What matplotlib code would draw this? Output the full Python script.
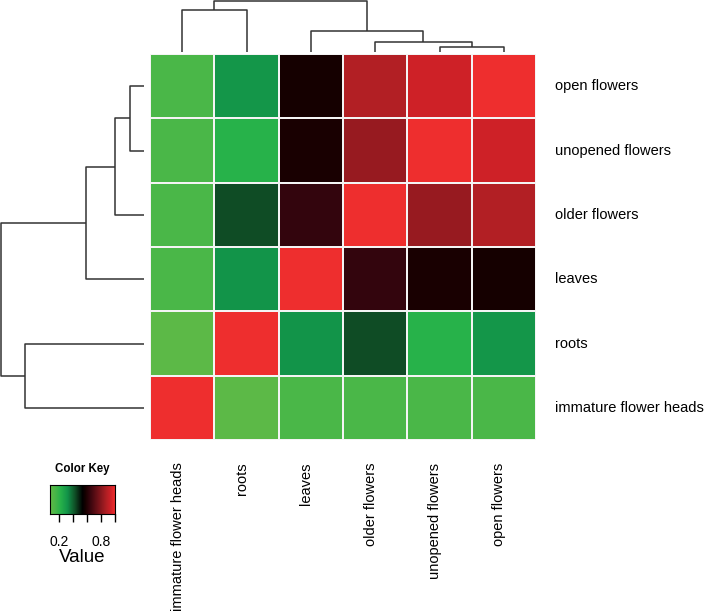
import numpy as np
import matplotlib.pyplot as plt
from matplotlib.colors import LinearSegmentedColormap

plt.rcParams['font.family'] = ['Liberation Sans', 'DejaVu Sans']

# column order of the heatmap (rows use the reverse order)
tissues = ["immature flower heads", "roots", "leaves",
           "older flowers", "unopened flowers", "open flowers"]

# symmetric similarity matrix, in column order
imm_row = [1.0, 0.09, 0.14, 0.14, 0.14, 0.14]
roots_row = [0.09, 1.0, 0.32, 0.43, 0.22, 0.31]
leaves_row = [0.14, 0.32, 1.0, 0.64, 0.585, 0.575]
older_row = [0.14, 0.43, 0.64, 1.0, 0.83, 0.88]
unop_row = [0.14, 0.22, 0.585, 0.83, 1.0, 0.935]
open_row = [0.14, 0.31, 0.575, 0.88, 0.935, 1.0]

# dendrogram merges (leaf index in column order, height relative to root)
merges = [(4, 5, 0.10), (3, 6, 0.20), (2, 7, 0.405), (0, 1, 0.83), (9, 8, 1.0)]

vmin, vmax = 0.07, 1.0
key_ticks = [0.2, 0.4, 0.6, 0.8, 1.0]
key_labels = ["0.2", "", "", "0.8", ""]

stops = [(0.07, "#62BA46"), (0.14, "#4AB748"), (0.22, "#27B24A"),
         (0.32, "#129349"), (0.43, "#0F4D25"), (0.535, "#000000"),
         (0.58, "#170000"), (0.64, "#34050D"), (0.83, "#961A20"),
         (0.88, "#B21F24"), (0.935, "#CC2027"), (1.0, "#EE2E2E")]
cmap = LinearSegmentedColormap.from_list(
    "gkr", [((v - vmin) / (vmax - vmin), c) for v, c in stops])

mat = np.array([imm_row, roots_row, leaves_row, older_row, unop_row, open_row])
n = len(tissues)
row_order = list(range(n))[::-1]      # open flowers at the top
disp = mat[row_order, :]

W, H = 707, 613
fig = plt.figure(figsize=(W / 100, H / 100), dpi=100)

def px_axes(x0, y0, x1, y1):
    return fig.add_axes([x0 / W, 1 - y1 / H, (x1 - x0) / W, (y1 - y0) / H])

# heatmap
ax = px_axes(150, 54, 536, 440)
ax.pcolormesh(np.arange(n + 1), np.arange(n + 1), disp, cmap=cmap,
              vmin=vmin, vmax=vmax, edgecolors="#F4F4F4", linewidth=1.2)
ax.set_xlim(0, n)
ax.set_ylim(n, 0)
ax.axis("off")
for i, r in enumerate(row_order):
    ax.text(n + 0.3, i + 0.5, tissues[r], ha="left", va="center", fontsize=10.5)
for j, name in enumerate(tissues):
    ax.text(j + 0.43, n + 0.35, name, rotation=90, ha="center", va="top",
            fontsize=10.5)

def dendro(axd, leaf_pos, orient):
    pos = dict(leaf_pos)
    hgt = {k: 0.0 for k in pos}
    nxt = len(pos)
    for a, b, h in merges:
        xs = [pos[a], pos[a], pos[b], pos[b]]
        ys = [hgt[a], h, h, hgt[b]]
        if orient == "top":
            axd.plot(xs, ys, color="#333333", lw=1.1, clip_on=False,
                     solid_capstyle="butt")
        else:
            axd.plot(ys, xs, color="#333333", lw=1.1, clip_on=False,
                     solid_capstyle="butt")
        pos[nxt] = (pos[a] + pos[b]) / 2
        hgt[nxt] = h
        nxt += 1

# column dendrogram
axc = px_axes(150, 1, 536, 52)
dendro(axc, {j: j + 0.5 for j in range(n)}, "top")
axc.set_xlim(0, n)
axc.set_ylim(0, 1.0)
axc.axis("off")

# row dendrogram
axr = px_axes(1, 54, 144, 440)
dendro(axr, {r: i + 0.5 for i, r in enumerate(row_order)}, "left")
axr.set_ylim(n, 0)
axr.set_xlim(1.0, 0)
axr.axis("off")

# color key
axk = px_axes(50, 485, 115, 514)
grad = np.linspace(vmin, vmax, 256)[None, :]
axk.imshow(grad, aspect="auto", cmap=cmap, vmin=vmin, vmax=vmax,
           extent=[vmin, vmax, 0, 1])
axk.set_xlim(vmin, vmax)
axk.set_yticks([])
axk.set_xticks(key_ticks)
axk.set_xticklabels(key_labels, fontsize=10)
axk.tick_params(axis="x", length=6, width=1, pad=9)
for s in axk.spines.values():
    s.set_linewidth(0.8)
fig.text(82 / W, 1 - 469 / H, "Color Key", ha="center", va="center",
         fontsize=8.3, fontweight="bold")
fig.text(82 / W, 1 - 558 / H, "Value", ha="center", va="center", fontsize=13.5)

fig.savefig("out.png", dpi=100)
